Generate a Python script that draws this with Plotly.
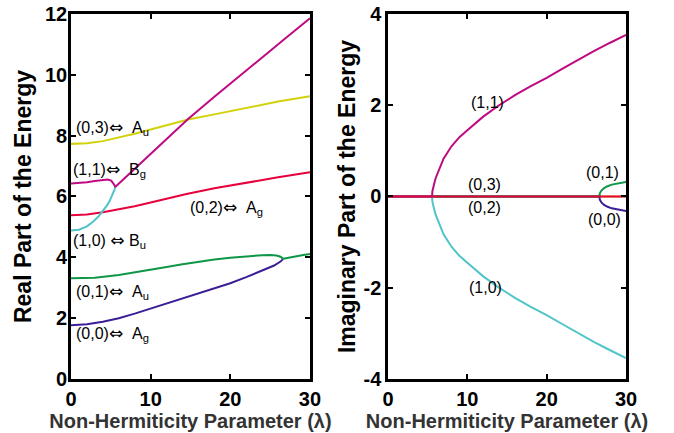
import plotly.graph_objects as go

# ---------------- data ----------------
# Real part, left panel
lam_re_11 = [0, 1, 2, 3, 4, 4.6, 5.05, 5.3, 5.45, 5.55]
re_11 = [6.43, 6.44, 6.47, 6.51, 6.55, 6.56, 6.52, 6.45, 6.38, 6.31]
lam_re_10 = [0, 1, 2, 2.8, 3.5, 4.0, 4.5, 4.85, 5.1, 5.3, 5.45, 5.55]
re_10 = [4.88, 4.91, 5.02, 5.18, 5.36, 5.52, 5.7, 5.85, 5.99, 6.12, 6.22, 6.31]
lam_re_pair1 = [5.55, 6, 7, 8, 10, 12, 14.7, 18, 20, 22, 24, 27, 30]
re_pair1 = [6.31, 6.42, 6.66, 6.9, 7.4, 7.88, 8.55, 9.28, 9.7, 10.13, 10.57, 11.22, 11.86]

lam_re_03 = [0, 2, 4, 6, 8, 10, 12, 14.7, 18, 22, 26, 30]
re_03 = [7.73, 7.75, 7.82, 7.93, 8.06, 8.2, 8.35, 8.53, 8.7, 8.92, 9.12, 9.3]
lam_re_02 = [0, 2, 4, 6, 8, 10, 12, 14.5, 18, 22, 26, 30]
re_02 = [5.38, 5.41, 5.48, 5.57, 5.68, 5.8, 5.93, 6.08, 6.27, 6.46, 6.63, 6.8]

lam_re_01 = [0, 3, 6, 8, 10, 12, 14, 16, 18, 20, 22, 24, 25, 25.8, 26.3, 26.64]
re_01 = [3.31, 3.33, 3.42, 3.5, 3.59, 3.68, 3.77, 3.86, 3.93, 3.99, 4.04, 4.07, 4.08, 4.06, 4.02, 3.95]
lam_re_00 = [0, 2, 4, 6, 8, 10, 12, 14, 16, 18, 20, 22, 24, 25.5, 26.3, 26.64]
re_00 = [1.77, 1.8, 1.88, 2.0, 2.15, 2.32, 2.48, 2.65, 2.82, 2.98, 3.15, 3.35, 3.56, 3.73, 3.86, 3.95]
lam_re_pair0 = [26.64, 27, 28, 29, 30]
re_pair0 = [3.95, 3.97, 4.02, 4.07, 4.11]

# Imaginary part, right panel
lam_im_zero = [0, 30]
im_zero = [0, 0]
lam_im_11 = [0, 5.55, 5.6, 5.7, 5.85, 6.0, 6.5, 7, 8, 9, 10, 12, 14, 16, 18, 20, 22, 24, 26, 28, 30]
im_11 = [0, 0, 0.12, 0.22, 0.3, 0.4, 0.63, 0.83, 1.1, 1.3, 1.45, 1.75, 2.0, 2.22, 2.42, 2.6, 2.8, 3.0, 3.19, 3.37, 3.54]
lam_im_10 = [0, 5.55, 5.6, 5.7, 5.85, 6.0, 6.5, 7, 8, 9, 10, 12, 14, 16, 18, 20, 22, 24, 26, 28, 30]
im_10 = [0, 0, -0.12, -0.22, -0.3, -0.4, -0.63, -0.83, -1.1, -1.3, -1.45, -1.75, -2.0, -2.22, -2.42, -2.6, -2.8, -3.0, -3.19, -3.37, -3.54]
lam_im_01 = [0, 26.64, 26.7, 26.9, 27.2, 27.6, 28.2, 29, 30]
im_01 = [0, 0, 0.07, 0.13, 0.18, 0.22, 0.26, 0.29, 0.32]
lam_im_00 = [0, 26.64, 26.7, 26.9, 27.2, 27.6, 28.2, 29, 30]
im_00 = [0, 0, -0.07, -0.13, -0.18, -0.22, -0.26, -0.29, -0.32]

x_ticks = [0, 10, 20, 30]
y_ticks_left = [0, 2, 4, 6, 8, 10, 12]
y_ticks_right = [-4, -2, 0, 2, 4]
y_ticktext_right = ["-4", "-2", "0", "2", "4"]

ARROW = '<span style="font-family:DejaVu Sans;font-size:17px">⇔</span>'
left_labels = ["(0,3)" + ARROW + "&nbsp;&nbsp;A<sub>u</sub>", "(1,1)" + ARROW + "&nbsp;&nbsp;B<sub>g</sub>",
               "(0,2)" + ARROW + "&nbsp;&nbsp;A<sub>g</sub>", "(1,0)&nbsp;" + ARROW + "&nbsp;B<sub>u</sub>",
               "(0,1)" + ARROW + "&nbsp;&nbsp;A<sub>u</sub>", "(0,0)" + ARROW + "&nbsp;&nbsp;A<sub>g</sub>"]
left_label_x = [0.35, 0.02, 14.75, 0.02, 0.35, 0.35]
left_label_y = [8.27, 6.9, 5.64, 4.55, 2.87, 1.49]
right_labels = ["(1,1)", "(0,3)", "(0,2)", "(1,0)", "(0,1)", "(0,0)"]
right_label_x = [12.49, 12.15, 12.15, 12.28, 26.98, 27.23]
right_label_y = [2.06, 0.26, -0.25, -1.99, 0.52, -0.51]

# ---------------- colours ----------------
C_YEL = "#d2d20a"
C_MAG = "#be0a82"
C_RED = "#e6003c"
C_CYA = "#50c4c8"
C_GRN = "#0f9646"
C_IND = "#3c1e96"

LW = 2
FONT = "Liberation Sans, Arial, Helvetica, sans-serif"

fig = go.Figure()


def add(x, y, color, ax):
    fig.add_trace(go.Scatter(x=x, y=y, mode="lines", line=dict(color=color, width=LW),
                             xaxis="x" if ax == 1 else "x2",
                             yaxis="y" if ax == 1 else "y2",
                             showlegend=False, hoverinfo="skip"))


# left panel
add(lam_re_02, re_02, C_RED, 1)
add(lam_re_03, re_03, C_YEL, 1)
add(lam_re_00, re_00, C_IND, 1)
add(lam_re_01, re_01, C_GRN, 1)
add(lam_re_pair0, re_pair0, C_GRN, 1)
add(lam_re_10, re_10, C_CYA, 1)
add(lam_re_11, re_11, C_MAG, 1)
add(lam_re_pair1, re_pair1, C_MAG, 1)

# right panel
add(lam_im_zero, im_zero, C_YEL, 2)
add(lam_im_00, im_00, C_IND, 2)
add(lam_im_01, im_01, C_GRN, 2)
add(lam_im_10, im_10, C_CYA, 2)
add(lam_im_11, im_11, C_MAG, 2)
add(lam_im_zero, im_zero, C_RED, 2)

axis_common = dict(
    showline=True, linecolor="black", linewidth=2.5, mirror="allticks",
    ticks="inside", ticklen=5, tickwidth=1.5, tickcolor="black",
    showgrid=False, zeroline=False, automargin=False,
    tickfont=dict(family=FONT, size=20, color="black", weight="bold"),
)

xt = dict(text="Non-Hermiticity Parameter (λ)",
          font=dict(family=FONT, size=20, color="#333333", weight="bold"), standoff=6)

fig.update_layout(
    width=674, height=433,
    margin=dict(l=0, r=0, t=0, b=0),
    paper_bgcolor="white", plot_bgcolor="white",
    xaxis=dict(domain=[0.1053, 0.4599], range=[0, 30], tickvals=x_ticks, anchor="y",
               title=xt, **axis_common),
    yaxis=dict(domain=[0.1247, 0.9677], range=[0, 12], tickvals=y_ticks_left, anchor="x",
               ticklabelstandoff=-3,
               title=dict(text="Real Part of the Energy",
                          font=dict(family=FONT, size=23, color="black", weight="bold"),
                          standoff=7),
               **axis_common),
    xaxis2=dict(domain=[0.5757, 0.9288], range=[0, 30], tickvals=x_ticks, anchor="y2",
                title=xt, **axis_common),
    yaxis2=dict(domain=[0.1247, 0.9677], range=[-4, 4], tickvals=y_ticks_right,
                ticktext=y_ticktext_right, anchor="x2",
                title=dict(text="Imaginary Part of the Energy",
                           font=dict(family=FONT, size=23, color="black", weight="bold"),
                           standoff=2),
                **axis_common),
)

for t, x, y in zip(left_labels, left_label_x, left_label_y):
    fig.add_annotation(text=t, x=x, y=y, xref="x", yref="y", xanchor="left", yanchor="middle",
                       showarrow=False, font=dict(family=FONT, size=16, color="black"))
for t, x, y in zip(right_labels, right_label_x, right_label_y):
    fig.add_annotation(text=t, x=x, y=y, xref="x2", yref="y2", xanchor="center", yanchor="middle",
                       showarrow=False, font=dict(family=FONT, size=16, color="black"))

fig.write_html("out.html", config={"displayModeBar": False},
               post_script="document.body.style.margin='0px';document.body.style.overflow='hidden';")
